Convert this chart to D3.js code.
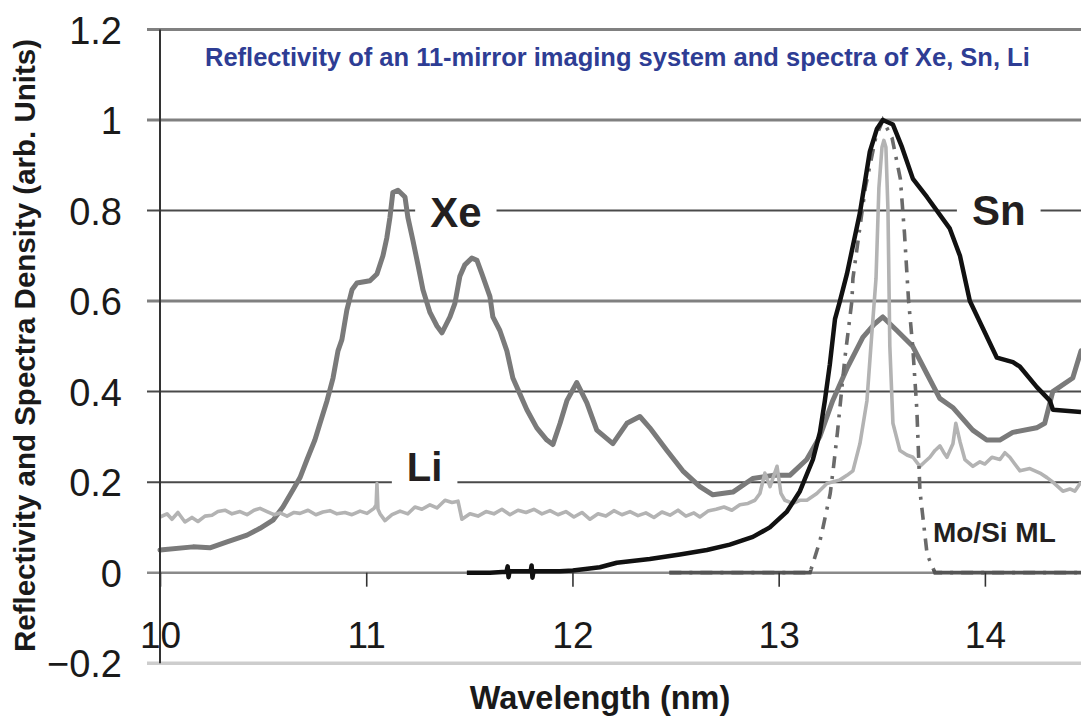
<!DOCTYPE html>
<html><head><meta charset="utf-8">
<script src="https://cdn.jsdelivr.net/npm/d3@7"></script>
<style>
html,body{margin:0;padding:0;background:#fff;}
svg{display:block;font-family:"Liberation Sans",Arial,Helvetica,sans-serif;}
</style></head><body>
<svg id="chart" width="1081" height="717"></svg>
<script>
// ---------------- DATA ----------------
const xTicks = [10, 11, 12, 13, 14];
const xTickLabels = ["10", "11", "12", "13", "14"];
const yTicks = [-0.2, 0, 0.2, 0.4, 0.6, 0.8, 1, 1.2];
const yTickLabels = ["\u22120.2", "0", "0.2", "0.4", "0.6", "0.8", "1", "1.2"];
const seriesNames = ["Xe", "Li", "Mo/Si ML", "Sn"];

// [wavelength nm, value]
const xe = [
[10.000,0.050],[10.160,0.057],[10.242,0.055],[10.325,0.068],[10.422,0.083],[10.485,0.098],[10.548,0.116],[10.596,0.145],[10.645,0.183],[10.679,0.21],[10.713,0.25],[10.751,0.293],[10.776,0.33],[10.810,0.38],[10.839,0.43],[10.863,0.49],[10.882,0.515],[10.906,0.58],[10.931,0.625],[10.955,0.64],[11.018,0.645],[11.052,0.66],[11.081,0.70],[11.100,0.74],[11.115,0.785],[11.129,0.84],[11.154,0.845],[11.188,0.83],[11.202,0.785],[11.226,0.735],[11.251,0.68],[11.275,0.625],[11.309,0.575],[11.343,0.545],[11.367,0.53],[11.406,0.565],[11.430,0.595],[11.454,0.655],[11.478,0.68],[11.512,0.695],[11.537,0.69],[11.561,0.66],[11.600,0.61],[11.614,0.565],[11.648,0.535],[11.682,0.49],[11.711,0.43],[11.745,0.395],[11.779,0.36],[11.827,0.32],[11.876,0.293],[11.905,0.283],[11.940,0.33],[11.973,0.38],[12.021,0.42],[12.070,0.375],[12.118,0.315],[12.196,0.285],[12.264,0.33],[12.327,0.345],[12.375,0.32],[12.458,0.27],[12.535,0.225],[12.618,0.19],[12.681,0.172],[12.778,0.178],[12.874,0.208],[12.971,0.215],[13.054,0.215],[13.136,0.25],[13.199,0.30],[13.262,0.38],[13.330,0.45],[13.408,0.52],[13.466,0.55],[13.505,0.565],[13.573,0.535],[13.650,0.50],[13.718,0.44],[13.781,0.385],[13.844,0.365],[13.941,0.315],[14.009,0.293],[14.072,0.293],[14.135,0.31],[14.251,0.32],[14.290,0.33],[14.329,0.40],[14.426,0.43],[14.466,0.49]
];

const li = [
[10.000,0.123],[10.034,0.130],[10.058,0.118],[10.087,0.133],[10.121,0.112],[10.155,0.122],[10.184,0.113],[10.218,0.125],[10.252,0.127],[10.281,0.135],[10.315,0.138],[10.349,0.130],[10.388,0.135],[10.422,0.128],[10.456,0.138],[10.485,0.142],[10.519,0.135],[10.553,0.128],[10.582,0.132],[10.616,0.125],[10.650,0.133],[10.679,0.131],[10.718,0.138],[10.756,0.128],[10.790,0.134],[10.824,0.137],[10.858,0.130],[10.897,0.133],[10.931,0.128],[10.970,0.136],[11.004,0.131],[11.038,0.142],[11.048,0.150],[11.052,0.197],[11.057,0.140],[11.067,0.130],[11.091,0.115],[11.125,0.128],[11.164,0.136],[11.202,0.130],[11.236,0.145],[11.270,0.140],[11.309,0.150],[11.343,0.143],[11.382,0.160],[11.416,0.155],[11.445,0.158],[11.464,0.118],[11.503,0.130],[11.542,0.125],[11.581,0.135],[11.619,0.130],[11.658,0.140],[11.697,0.128],[11.736,0.138],[11.775,0.133],[11.813,0.140],[11.852,0.130],[11.891,0.137],[11.930,0.128],[11.968,0.135],[12.007,0.123],[12.046,0.133],[12.085,0.118],[12.124,0.130],[12.162,0.125],[12.201,0.137],[12.240,0.128],[12.279,0.135],[12.318,0.126],[12.356,0.132],[12.395,0.122],[12.434,0.134],[12.473,0.127],[12.512,0.138],[12.550,0.125],[12.589,0.132],[12.618,0.123],[12.657,0.136],[12.696,0.140],[12.735,0.145],[12.773,0.138],[12.812,0.150],[12.851,0.153],[12.885,0.160],[12.909,0.175],[12.933,0.220],[12.958,0.190],[12.992,0.235],[13.011,0.175],[13.030,0.160],[13.069,0.153],[13.103,0.160],[13.137,0.160],[13.185,0.175],[13.234,0.197],[13.297,0.205],[13.331,0.215],[13.360,0.225],[13.394,0.285],[13.428,0.380],[13.452,0.530],[13.472,0.650],[13.486,0.850],[13.501,0.940],[13.510,0.955],[13.520,0.940],[13.530,0.800],[13.539,0.500],[13.554,0.330],[13.588,0.270],[13.622,0.260],[13.651,0.255],[13.685,0.235],[13.709,0.245],[13.733,0.255],[13.758,0.270],[13.782,0.280],[13.801,0.265],[13.816,0.255],[13.845,0.285],[13.859,0.330],[13.879,0.290],[13.903,0.250],[13.942,0.235],[13.976,0.245],[14.000,0.240],[14.034,0.255],[14.073,0.250],[14.097,0.265],[14.121,0.255],[14.145,0.240],[14.170,0.225],[14.218,0.230],[14.267,0.220],[14.301,0.210],[14.330,0.200],[14.378,0.180],[14.412,0.185],[14.436,0.180],[14.466,0.200]
];

const mosi = [
[12.47,0],[13.152,0],[13.20,0.07],[13.215,0.10],[13.25,0.175],[13.265,0.23],[13.285,0.31],[13.32,0.47],[13.355,0.60],[13.36,0.65],[13.42,0.85],[13.47,0.96],[13.505,1.0],[13.55,0.96],[13.59,0.87],[13.61,0.75],[13.63,0.60],[13.65,0.50],[13.67,0.36],[13.685,0.18],[13.70,0.12],[13.72,0.04],[13.758,0],[14.466,0]
];

const sn = [
[11.488,0.000],[11.600,0.000],[11.680,0.002],[11.686,0.014],[11.690,-0.010],[11.695,0.003],[11.797,0.003],[11.802,0.016],[11.806,-0.011],[11.811,0.003],[11.939,0.003],[12.002,0.005],[12.133,0.012],[12.215,0.022],[12.375,0.030],[12.521,0.040],[12.652,0.050],[12.763,0.062],[12.875,0.079],[12.957,0.100],[13.040,0.135],[13.103,0.180],[13.166,0.250],[13.200,0.310],[13.224,0.380],[13.248,0.460],[13.273,0.560],[13.297,0.600],[13.331,0.660],[13.394,0.795],[13.442,0.930],[13.476,0.980],[13.505,1.000],[13.554,0.990],[13.598,0.940],[13.651,0.870],[13.719,0.830],[13.830,0.760],[13.879,0.700],[13.927,0.600],[13.990,0.540],[14.058,0.475],[14.136,0.465],[14.170,0.455],[14.252,0.410],[14.315,0.380],[14.330,0.360],[14.466,0.355]
];

// ---------------- CHART ----------------
const FONT = '"Liberation Sans", Arial, Helvetica, sans-serif';
const svg = d3.select("#chart");
const x = d3.scaleLinear().domain([10, 14.466]).range([160, 1081]);
const y = d3.scaleLinear().domain([-0.2, 1.2]).range([663.2, 29.5]);

svg.append("rect").attr("width", 1081).attr("height", 717).attr("fill", "#fff");

const defs = svg.append("defs");
defs.append("clipPath").attr("id", "baseBand")
  .append("rect").attr("x", 160).attr("width", 921)
  .attr("y", y(0) - 3).attr("height", 6);

// grid lines
function gridStyle(v) {
  if (v === -0.2) return { c: "#cdcdcd", w: 3.5 };
  if (v === 1.2 || v === 1 || v === 0.6) return { c: "#808080", w: 3 };
  if (v === 0) return { c: "#8a8a8a", w: 2.5 };
  return { c: "#4a4a4a", w: 2 };
}
const gGrid = svg.append("g");
gGrid.selectAll("line").data(yTicks).join("line")
  .attr("x1", 147).attr("x2", 1081)
  .attr("y1", d => y(d)).attr("y2", d => y(d))
  .attr("stroke", d => gridStyle(d).c)
  .attr("stroke-width", d => gridStyle(d).w);

const gBg = svg.append("g");
const gCurves = svg.append("g");
const gAxes = svg.append("g");
const gText = svg.append("g");

// curves
const line = d3.line().x(d => x(d[0])).y(d => y(d[1]));
gCurves.append("path").datum(xe).attr("d", line)
  .attr("fill", "none").attr("stroke", "#7a7a7a").attr("stroke-width", 5)
  .attr("stroke-linejoin", "round").attr("stroke-linecap", "round");
gCurves.append("path").datum(li).attr("d", line)
  .attr("fill", "none").attr("stroke", "#b3b3b3").attr("stroke-width", 3.6)
  .attr("stroke-linejoin", "round");
// Mo/Si ML: dash-dot on the peak, solid along the zero baseline
gCurves.append("path").datum(mosi).attr("d", line)
  .attr("fill", "none").attr("stroke", "#6a6a6a").attr("stroke-width", 3.6)
  .attr("stroke-dasharray", "12,8,3,8");
gCurves.append("path").datum(mosi).attr("d", line)
  .attr("clip-path", "url(#baseBand)")
  .attr("fill", "none").attr("stroke", "#555").attr("stroke-width", 3.6);
gCurves.append("path").datum(sn).attr("d", line)
  .attr("fill", "none").attr("stroke", "#111").attr("stroke-width", 4.5)
  .attr("stroke-linejoin", "round");

// y axis line
gAxes.append("line").attr("x1", 160).attr("x2", 160)
  .attr("y1", y(1.2)).attr("y2", y(-0.2))
  .attr("stroke", "#333").attr("stroke-width", 2);

// x axis ticks & labels
const xAxis = d3.axisBottom(x).tickValues(xTicks)
  .tickFormat((d, i) => xTickLabels[i]).tickSize(14);
const gx = gAxes.append("g").attr("transform", `translate(0,${y(0)})`).call(xAxis);
gx.select(".domain").remove();
gx.attr("font-family", FONT).attr("font-size", 37);
gx.selectAll(".tick line").attr("stroke", "#333").attr("stroke-width", 1.6);
gx.selectAll(".tick text").attr("y", 75).attr("dy", 0).attr("fill", "#1a1a1a");

// y axis labels
const yAxis = d3.axisLeft(y).tickValues(yTicks)
  .tickFormat((d, i) => yTickLabels[i]).tickSize(0).tickPadding(38);
const gy = gAxes.append("g").attr("transform", "translate(160,0)").call(yAxis);
gy.select(".domain").remove();
gy.attr("font-family", FONT).attr("font-size", 38);
gy.selectAll(".tick text").attr("dy", "0.36em").attr("fill", "#1a1a1a");

// axis titles
gText.append("text")
  .attr("transform", "translate(35,345.5) rotate(-90)")
  .attr("text-anchor", "middle")
  .attr("font-family", FONT).attr("font-weight", "bold").attr("font-size", 29.5)
  .attr("fill", "#1a1a1a")
  .text("Reflectivity and Spectra Density (arb. Units)");
gText.append("text")
  .attr("x", 600).attr("y", 709)
  .attr("text-anchor", "middle")
  .attr("font-family", FONT).attr("font-weight", "bold").attr("font-size", 32.5)
  .attr("fill", "#1a1a1a")
  .text("Wavelength (nm)");

// chart title
gText.append("text")
  .attr("x", 205).attr("y", 66)
  .attr("font-family", FONT).attr("font-weight", "bold").attr("font-size", 25.5)
  .attr("fill", "#2e3d94")
  .text("Reflectivity of an 11-mirror imaging system and spectra of Xe, Sn, Li");

// series labels
function addLabel(txt, xv, yv, size, box) {
  const t = gText.append("text")
    .attr("x", x(xv)).attr("y", y(yv))
    .attr("font-family", FONT).attr("font-weight", "bold").attr("font-size", size)
    .attr("fill", "#231f20").text(txt);
  if (box) {
    const b = t.node().getBBox();
    gBg.append("rect").attr("x", b.x - 15).attr("y", b.y)
      .attr("width", b.width + 30).attr("height", b.height).attr("fill", "#fff");
  }
}
addLabel(seriesNames[0], 11.31, 0.764, 42, true);
addLabel(seriesNames[3], 13.937, 0.768, 42, true);
addLabel(seriesNames[1], 11.197, 0.2025, 40, true);
addLabel(seriesNames[2], 13.748, 0.068, 28, false);
</script>
</body></html>
